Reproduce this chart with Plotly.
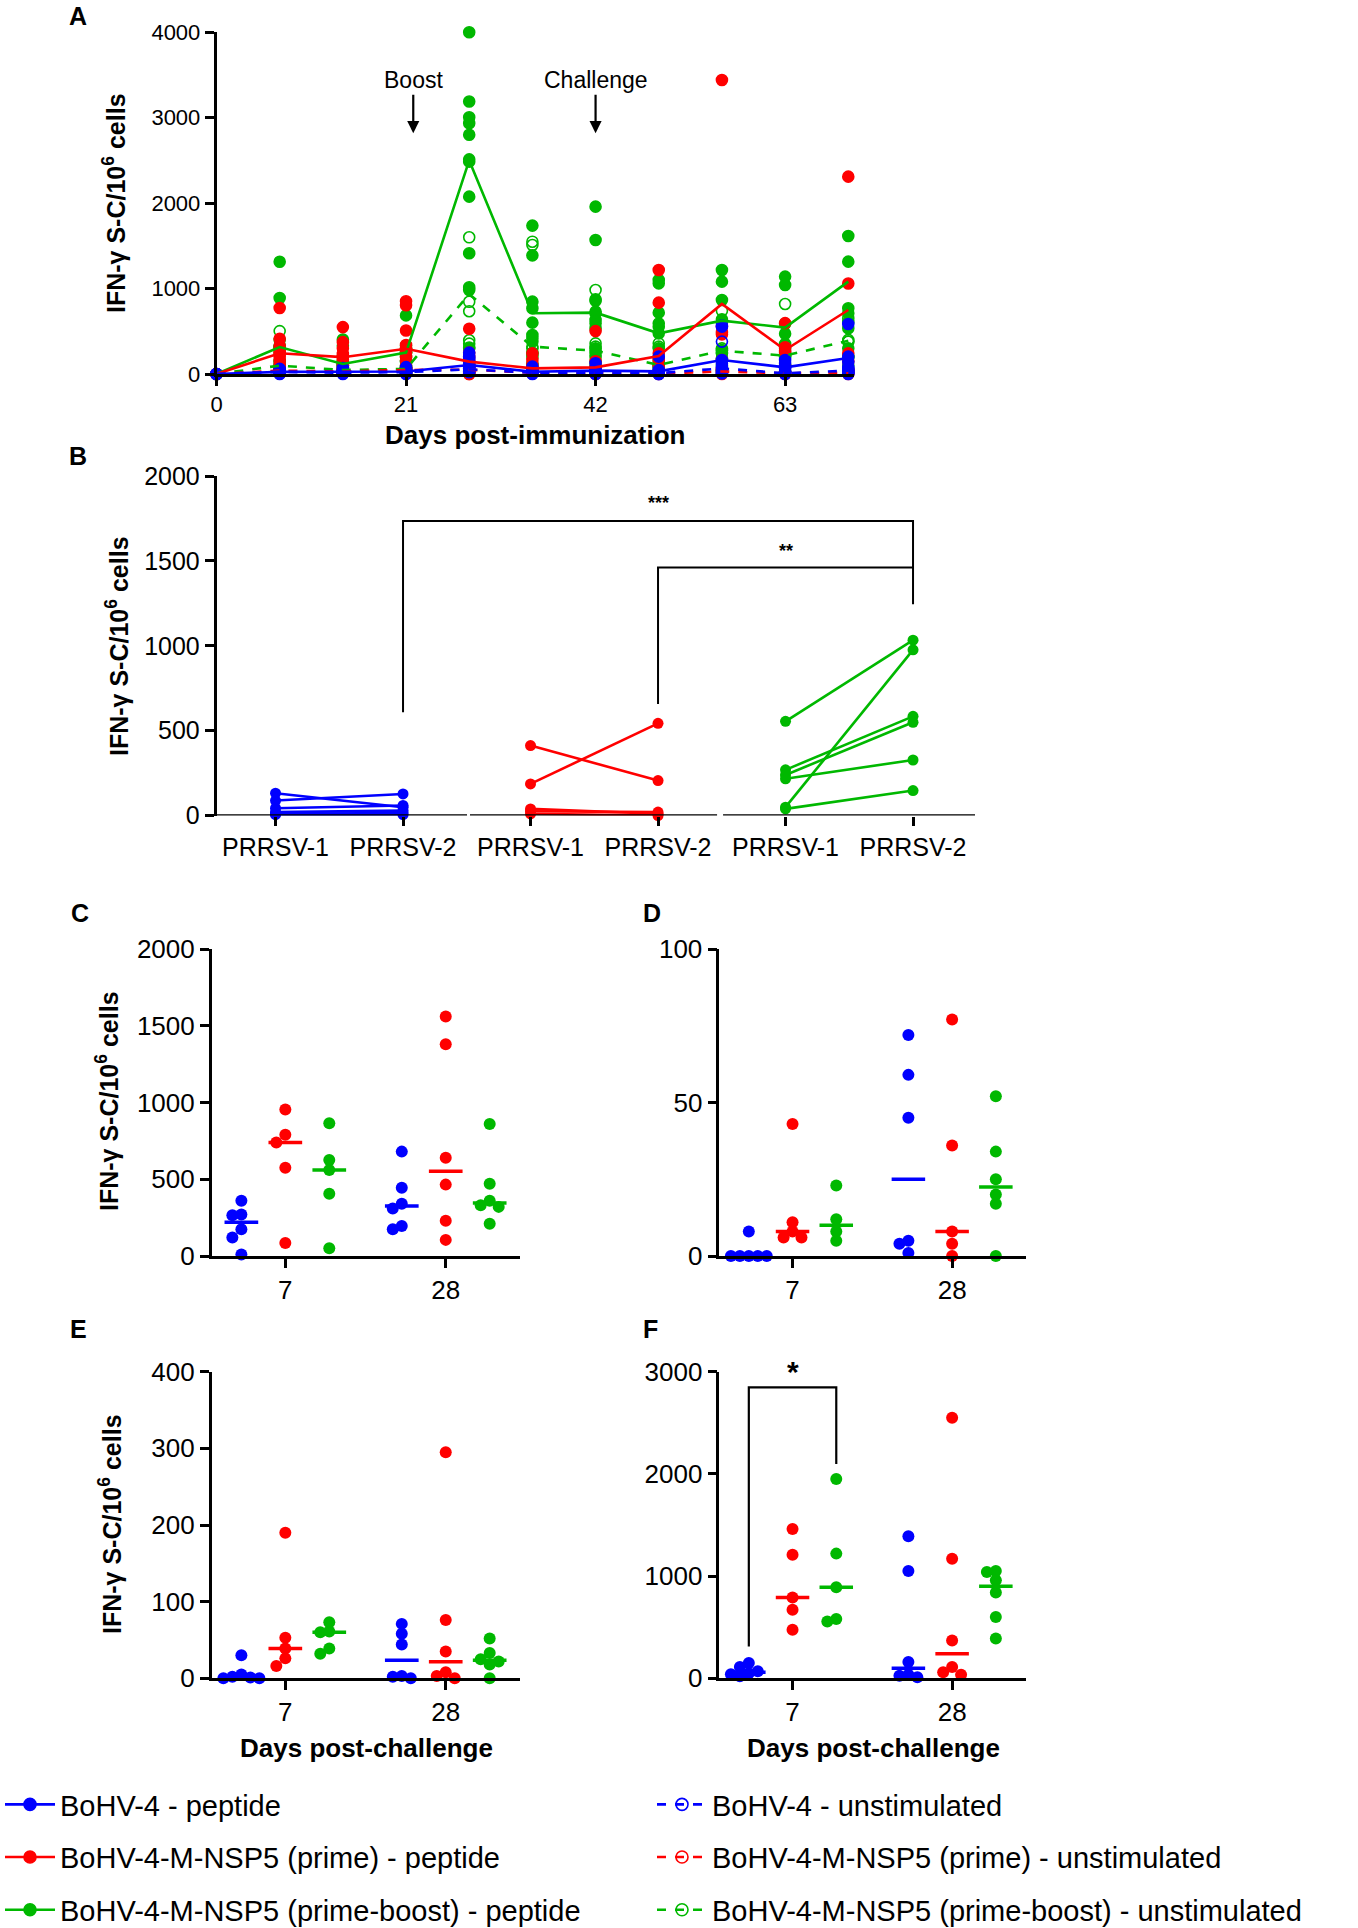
# %% Imports
import numpy as np
import plotly.graph_objects as go

# %% Page / style
W, H = 1358, 1928
FONT = "Liberation Sans, Arial, sans-serif"
BLUE, RED, GREEN = "#0000FF", "#FF0000", "#00B800"

# %% Panel A: days post-immunization (filled = peptide, open = unstimulated)
A_DAYS = [0, 7, 14, 21, 28, 35, 42, 49, 56, 63, 70]

A_BLUE_PEP = [
    [0, 0], [60, 50, 40, 30, 20, 15, 10, 5, 0], [70, 50, 40, 30, 26, 20, 10, 0],
    [80, 60, 50, 35, 28, 20, 10, 0], [250, 200, 180, 150, 120, 100, 80, 60, 30],
    [86, 60, 40, 25, 10, 0], [125, 66, 40, 27, 10, 0], [203, 47, 20, 8, 0],
    [569, 554, 164, 120, 86, 39, 10], [164, 125, 80, 60, 27, 10], [585, 203, 144, 86, 50, 20],
]
A_BLUE_UN = [
    [0], [40, 30, 20, 10], [30, 20, 10], [40, 25, 10], [60, 40, 20], [30, 15, 5],
    [30, 15, 5], [20, 10, 0], [379, 66, 8], [30, 10, 0], [60, 39, 16, 0],
]
A_RED_PEP = [
    [0, 0], [773, 412, 330, 290, 260, 235, 200, 160, 120, 40],
    [549, 373, 300, 235, 200, 170, 137, 100, 50],
    [851, 804, 510, 340, 300, 290, 250, 200, 157, 60],
    [529, 250, 200, 150, 120, 80, 30, 0], [242, 164, 120, 86, 47, 20],
    [502, 150, 86, 60, 20], [1218, 835, 242, 164, 100, 40],
    [3442, 557, 490, 464, 164, 50], [596, 314, 275, 261, 100], [2310, 1059, 242, 150, 47],
]
A_RED_UN = [
    [0], [80, 50, 40, 20, 10], [60, 40, 30, 20, 10], [90, 60, 47, 30, 10], [90, 50, 20, 0],
    [40, 15, 5], [30, 10, 0], [20, 5, 0], [60, 30, 0], [20, 8, 0], [40, 15, 0],
]
A_GREEN_PEP = [
    [0, 0],
    [1314, 890, 400, 330, 320, 310, 300, 250, 150, 80, 30, 10],
    [404, 330, 200, 150, 130, 120, 115, 100, 60, 40, 20, 10],
    [686, 330, 300, 280, 260, 255, 248, 200, 150, 100, 50, 20],
    [4000, 3190, 3005, 2935, 2800, 2513, 2486, 2076, 1413, 1015, 983, 300],
    [1737, 1389, 847, 769, 601, 457, 418, 379, 250, 200, 120, 50],
    [1959, 1569, 874, 858, 730, 710, 632, 593, 535, 300, 242, 144],
    [1100, 1061, 718, 593, 554, 476, 300, 203, 150, 80, 30, 8],
    [1218, 1081, 866, 640, 600, 281, 242, 183, 100, 40],
    [1140, 1042, 588, 471, 353, 250, 200, 100],
    [1616, 1315, 769, 710, 608, 535, 300, 200, 100],
]
A_GREEN_UN = [
    [0], [502, 150, 100, 95, 50, 20], [100, 80, 50, 45, 30, 10], [140, 80, 60, 58, 30, 10],
    [1600, 845, 735, 395, 355, 310], [1549, 1510, 320, 300, 242, 100], [983, 359, 320, 273, 200, 100],
    [359, 320, 105, 80, 40, 10], [741, 300, 273, 250, 150, 50], [820, 300, 220, 210, 100, 30],
    [652, 379, 400, 380, 200, 50],
]
# connecting lines as drawn in the figure
A_BLUE_PEP_LINE = [0, 25, 27, 30, 105, 27, 39, 31, 164, 78, 187]
A_BLUE_UN_LINE = [0, 25, 15, 22, 55, 15, 15, 10, 66, 8, 39]
A_RED_PEP_LINE = [0, 243, 197, 295, 145, 66, 78, 211, 820, 281, 749]
A_RED_UN_LINE = [0, 40, 30, 47, 50, 15, 10, 5, 30, 8, 15]
A_GREEN_PEP_LINE = [0, 315, 118, 251, 2500, 711, 718, 476, 625, 543, 1081]
A_GREEN_UN_LINE = [0, 98, 47, 59, 935, 320, 273, 105, 273, 215, 390]

# %% Panel B: paired PRRSV-1 / PRRSV-2 responses per animal
B_LABELS = ["PRRSV-1", "PRRSV-2"] * 3
B_BLUE_P1 = [131, 88, 43, 20, 10, 5]
B_BLUE_P2 = [49, 127, 59, 29, 14, 5]
B_RED_P1 = [412, 186, 39, 25, 10]
B_RED_P2 = [206, 543, 10, 20, 0]
B_GREEN_P1 = [555, 269, 239, 216, 49, 39]
B_GREEN_P2 = [1033, 584, 549, 327, 976, 147]

# %% Panels C-F: days post-challenge 7 and 28 (one list per day)
CF_DAYS = ["7", "28"]
C_BLUE = [[360, 270, 265, 175, 120, 10], [680, 445, 340, 310, 195, 175]]
C_RED = [[955, 790, 740, 575, 85], [1560, 1380, 640, 465, 230, 105]]
C_GREEN = [[865, 625, 560, 405, 50], [860, 470, 360, 330, 320, 210]]
D_BLUE = [[8, 0, 0, 0, 0, 0], [72, 59, 45, 5, 4, 1]]
D_RED = [[43, 11, 8, 6, 6], [77, 36, 8, 4, 0]]
D_GREEN = [[23, 12, 8, 5], [52, 34, 25, 20, 17, 0]]
E_BLUE = [[30, 5, 2, 1, 0, 0], [71, 58, 44, 3, 2, 0]]
E_RED = [[190, 53, 39, 26, 16], [295, 76, 35, 8, 3, 0]]
E_GREEN = [[73, 61, 60, 39, 32], [52, 33, 25, 22, 18, 0]]
F_BLUE = [[150, 110, 70, 50, 40, 20], [1390, 1050, 160, 35, 25, 10]]
F_RED = [[1460, 1210, 790, 670, 475], [2550, 1170, 370, 110, 60, 35]]
F_GREEN = [[1950, 1220, 890, 580, 555], [1050, 1040, 960, 840, 600, 390]]

LEGEND_NAMES = [
    "BoHV-4 - peptide", "BoHV-4-M-NSP5 (prime) - peptide", "BoHV-4-M-NSP5 (prime-boost) - peptide",
    "BoHV-4 - unstimulated", "BoHV-4-M-NSP5 (prime) - unstimulated",
    "BoHV-4-M-NSP5 (prime-boost) - unstimulated",
]


# %% helpers
def dom_x(a, b):
    return [a / W, b / W]


def dom_y(top, bottom):
    return [1 - bottom / H, 1 - top / H]


def axis_style(size, **kw):
    d = dict(showline=True, linecolor="black", linewidth=2.5, ticks="outside", ticklen=9,
             tickwidth=2.5, tickcolor="black", showgrid=False, zeroline=False, automargin=False,
             tickfont=dict(family=FONT, size=size, color="black"), fixedrange=True)
    d.update(kw)
    return d


def swarm(vals, px_per_unit, step=9.0, diam=8.5):
    # simple beeswarm: place highest first, shift sideways on collision
    order = sorted(range(len(vals)), key=lambda i: -vals[i])
    placed, offs = [], [0.0] * len(vals)
    for i in order:
        y = vals[i] * px_per_unit
        for k in (0, -1, 1, -2, 2, -3, 3, -4, 4):
            x = k * step
            if all((x - px) ** 2 + (y - py) ** 2 >= diam ** 2 for px, py in placed):
                break
        offs[i] = x
        placed.append((x, y))
    return offs


def paper_text(text, px, py, size, angle=0):
    return dict(x=px / W, y=1 - py / H, xref="paper", yref="paper", xanchor="center", yanchor="middle",
                text=text, textangle=angle, showarrow=False, font=dict(size=size, family=FONT, color="black"))


fig = go.Figure()

# %% Panel A traces
a_groups = [
    (GREEN, A_GREEN_PEP, A_GREEN_PEP_LINE, A_GREEN_UN, A_GREEN_UN_LINE),
    (RED, A_RED_PEP, A_RED_PEP_LINE, A_RED_UN, A_RED_UN_LINE),
    (BLUE, A_BLUE_PEP, A_BLUE_PEP_LINE, A_BLUE_UN, A_BLUE_UN_LINE),
]
for col, pep, pep_line, un, un_line in a_groups:
    for vals, sym in ((un, "circle-open"), (pep, "circle")):
        xs = [d for d, v in zip(A_DAYS, vals) for _ in v]
        ys = [y for v in vals for y in v]
        fig.add_trace(go.Scatter(x=xs, y=ys, mode="markers", cliponaxis=False, showlegend=False,
                                 marker=dict(symbol=sym, size=11, color=col, line=dict(width=1.6, color=col)),
                                 xaxis="x", yaxis="y"))
for col, pep, pep_line, un, un_line in a_groups:
    fig.add_trace(go.Scatter(x=A_DAYS, y=un_line, mode="lines", cliponaxis=False, showlegend=False,
                             line=dict(color=col, width=2.6, dash="dash"), xaxis="x", yaxis="y"))
    fig.add_trace(go.Scatter(x=A_DAYS, y=pep_line, mode="lines", cliponaxis=False, showlegend=False,
                             line=dict(color=col, width=2.6), xaxis="x", yaxis="y"))

# %% Panel B traces
b_groups = [(BLUE, B_BLUE_P1, B_BLUE_P2, 0), (RED, B_RED_P1, B_RED_P2, 2), (GREEN, B_GREEN_P1, B_GREEN_P2, 4)]
for col, p1, p2, pos in b_groups:
    xs, ys = [], []
    for a, b in zip(p1, p2):
        xs += [pos, pos + 1, None]
        ys += [a, b, None]
    fig.add_trace(go.Scatter(x=xs, y=ys, mode="lines+markers", cliponaxis=False, showlegend=False,
                             line=dict(color=col, width=2.6), marker=dict(size=11, color=col),
                             xaxis="x2", yaxis="y2"))
# significance brackets
fig.add_trace(go.Scatter(x=[1, 1, 5, 5], y=[608, 1735, 1735, 1245], mode="lines", showlegend=False,
                         line=dict(color="black", width=2), xaxis="x2", yaxis="y2"))
fig.add_trace(go.Scatter(x=[3, 3, 5], y=[657, 1461, 1461], mode="lines", showlegend=False,
                         line=dict(color="black", width=2), xaxis="x2", yaxis="y2"))

# %% Panels C-F traces
OFF = 0.274      # group offset (category units)
PX_UNIT = 160.3  # pixels per category unit
HALF = 0.105     # half width of median bar
cf_panels = [
    ("x3", "y3", 2000, (C_BLUE, C_RED, C_GREEN)),
    ("x4", "y4", 100, (D_BLUE, D_RED, D_GREEN)),
    ("x5", "y5", 400, (E_BLUE, E_RED, E_GREEN)),
    ("x6", "y6", 3000, (F_BLUE, F_RED, F_GREEN)),
]
for xa, ya, ymax, groups in cf_panels:
    ppu = 306.6 / ymax
    for gi, (col, g) in enumerate(zip((BLUE, RED, GREEN), groups)):
        for di, vals in enumerate(g):
            centre = di + 1 + (gi - 1) * OFF
            offs = swarm(vals, ppu)
            fig.add_trace(go.Scatter(x=[centre + o / PX_UNIT for o in offs], y=vals, mode="markers",
                                     cliponaxis=False, showlegend=False,
                                     marker=dict(size=12, color=col), xaxis=xa, yaxis=ya))
            med = float(np.median(vals))
            fig.add_trace(go.Scatter(x=[centre - HALF, centre + HALF], y=[med, med], mode="lines",
                                     cliponaxis=False, showlegend=False,
                                     line=dict(color=col, width=3.5), xaxis=xa, yaxis=ya))
# bracket in F
fig.add_trace(go.Scatter(x=[1 - OFF, 1 - OFF, 1 + OFF, 1 + OFF], y=[310, 2846, 2846, 2097], mode="lines",
                         showlegend=False, line=dict(color="black", width=2.2), xaxis="x6", yaxis="y6"))

# %% legend entries
leg_styles = [(BLUE, "solid", "circle"), (RED, "solid", "circle"), (GREEN, "solid", "circle"),
              (BLUE, "dash", "circle-open"), (RED, "dash", "circle-open"), (GREEN, "dash", "circle-open")]
for i, (name, (col, dash, sym)) in enumerate(zip(LEGEND_NAMES, leg_styles)):
    fig.add_trace(go.Scatter(x=[None], y=[None], name=name, mode="lines+markers",
                             line=dict(color=col, width=2.6, dash=dash),
                             marker=dict(symbol=sym, size=12, color=col, line=dict(width=1.6, color=col)),
                             legend="legend" if i < 3 else "legend2", legendgroup=f"g{i}",
                             xaxis="x", yaxis="y"))

# %% layout
C_X, D_X = (211.7, 520.0), (719.3, 1026.0)
CD_Y, EF_Y = (949.0, 1256.0), (1371.7, 1678.3)
cat_range = [0.541, 2.463]
cat_ticks = dict(tickmode="array", tickvals=[1, 2], ticktext=CF_DAYS)
leg_common = dict(yanchor="top", xanchor="left", itemwidth=50, tracegroupgap=12,
                  font=dict(family=FONT, size=29, color="black"), bgcolor="rgba(0,0,0,0)", itemclick=False)

fig.update_layout(
    width=W, height=H, margin=dict(l=0, r=0, t=0, b=0, autoexpand=False),
    paper_bgcolor="white", plot_bgcolor="white",
    font=dict(family=FONT, color="black"),
    xaxis=axis_style(22, domain=dom_x(216.5, 853.7), range=[0, 70.6], anchor="y",
                     tickmode="array", tickvals=[0, 21, 42, 63]),
    yaxis=axis_style(22, domain=dom_y(32.3, 374.0), range=[0, 4000], anchor="x", dtick=1000),
    xaxis2=axis_style(25, domain=dom_x(216.5, 975.0), range=[-0.463, 5.486], anchor="y2", showline=False,
                      tickmode="array", tickvals=list(range(6)), ticktext=B_LABELS),
    yaxis2=axis_style(25, domain=dom_y(476.0, 815.5), range=[0, 2000], anchor="x2", dtick=500),
    xaxis3=axis_style(26, domain=dom_x(*C_X), range=cat_range, anchor="y3", **cat_ticks),
    yaxis3=axis_style(26, domain=dom_y(*CD_Y), range=[0, 2000], anchor="x3", dtick=500),
    xaxis4=axis_style(26, domain=dom_x(*D_X), range=cat_range, anchor="y4", **cat_ticks),
    yaxis4=axis_style(26, domain=dom_y(*CD_Y), range=[0, 100], anchor="x4", dtick=50),
    xaxis5=axis_style(26, domain=dom_x(*C_X), range=cat_range, anchor="y5", **cat_ticks),
    yaxis5=axis_style(26, domain=dom_y(*EF_Y), range=[0, 400], anchor="x5", dtick=100),
    xaxis6=axis_style(26, domain=dom_x(*D_X), range=cat_range, anchor="y6", **cat_ticks),
    yaxis6=axis_style(26, domain=dom_y(*EF_Y), range=[0, 3000], anchor="x6", dtick=1000),
    legend=dict(x=0, y=1 - 1779 / H, **leg_common),
    legend2=dict(x=652 / W, y=1 - 1779 / H, **leg_common),
)

# baseline segments of panel B
for x0, x1 in ((-0.463, 1.502), (1.525, 3.463), (3.51, 5.486)):
    fig.add_shape(type="line", xref="x2", yref="y2", x0=x0, x1=x1, y0=0, y1=0,
                  line=dict(color="black", width=2.5))

# %% annotations
ann = []
for letter, (px, py) in zip("ABCDEF", [(78, 16), (78, 456), (80, 913), (652, 913), (78, 1329), (650, 1329)]):
    ann.append(paper_text(f"<b>{letter}</b>", px, py, 25))
ytitle = "<b>IFN-γ S-C/10<sup>6</sup> cells</b>"
for px, py in ((114, 203), (117, 646), (107, 1101), (110, 1524)):
    ann.append(paper_text(ytitle, px, py, 25, angle=-90))
for txt, px, py in (("Days post-immunization", 535, 435), ("Days post-challenge", 366.7, 1748),
                    ("Days post-challenge", 873, 1748)):
    ann.append(paper_text(f"<b>{txt}</b>", px, py, 26))
for txt, xv in (("Boost", 21.8), ("Challenge", 42.0)):
    ann.append(dict(x=xv, y=2819, ax=xv, ay=3440, xref="x", yref="y", axref="x", ayref="y", text=txt,
                    showarrow=True, arrowhead=2, arrowsize=1.1, arrowwidth=2.2, arrowcolor="black",
                    font=dict(size=23, family=FONT, color="black")))
ann.append(dict(x=3, y=1841, xref="x2", yref="y2", text="<b>***</b>", showarrow=False,
                font=dict(size=18, family=FONT, color="black")))
ann.append(dict(x=4, y=1559, xref="x2", yref="y2", text="<b>**</b>", showarrow=False,
                font=dict(size=18, family=FONT, color="black")))
ann.append(dict(x=1, y=2846, xref="x6", yref="y6", yshift=16, text="<b>*</b>", showarrow=False,
                font=dict(size=30, family=FONT, color="black")))
fig.update_layout(annotations=ann)

# the page body has a default 8px margin; drop it so the figure fills the window exactly
fig.write_html("out.html", config={"displayModeBar": False},
               post_script="document.body.style.margin='0px';")
